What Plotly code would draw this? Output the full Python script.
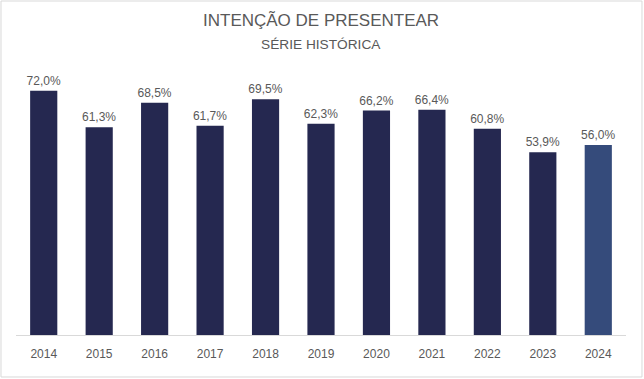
import plotly.graph_objects as go

years = ["2014", "2015", "2016", "2017", "2018", "2019", "2020", "2021", "2022", "2023", "2024"]
values = [72.0, 61.3, 68.5, 61.7, 69.5, 62.3, 66.2, 66.4, 60.8, 53.9, 56.0]
labels = ["72,0%", "61,3%", "68,5%", "61,7%", "69,5%", "62,3%", "66,2%", "66,4%", "60,8%", "53,9%", "56,0%"]
colors = ["#252850"] * 10 + ["#354b7b"]

fig = go.Figure(go.Bar(
    x=years, y=values, text=labels, textposition="outside",
    marker=dict(color=colors, line=dict(width=0)),
    textfont=dict(size=12, color="#595959"),
    constraintext="none",
    cliponaxis=False,
))

fig.update_layout(
    width=644, height=379,
    margin=dict(l=16, r=18, t=60, b=44),
    paper_bgcolor="white", plot_bgcolor="white",
    font=dict(family="Liberation Sans, Arial, sans-serif", color="#595959"),
    bargap=0.51,
    showlegend=False,
    xaxis=dict(showline=True, linecolor="#d9d9d9", linewidth=1, ticks="",
               ticklabelstandoff=8,
               tickfont=dict(size=12, color="#595959"), showgrid=False, fixedrange=True),
    yaxis=dict(visible=False, range=[0, 81.1], showgrid=False),
    annotations=[
        dict(text="INTENÇÃO DE PRESENTEAR", xref="paper", yref="paper", x=0.5, y=1.145,
             xanchor="center", yanchor="middle", showarrow=False,
             font=dict(size=17, color="#595959")),
        dict(text="SÉRIE HISTÓRICA", xref="paper", yref="paper", x=0.5, y=1.058,
             xanchor="center", yanchor="middle", showarrow=False,
             font=dict(size=13.7, color="#595959")),
    ],
    shapes=[dict(type="rect", xref="paper", yref="paper",
                 x0=-0.0246, x1=1.0262, y0=-0.1527, y1=1.2145,
                 line=dict(color="#d9d9d9", width=1), fillcolor="rgba(0,0,0,0)", layer="below")],
)

fig.write_html("out.html", config={"displayModeBar": False},
               post_script="document.body.style.margin='0';document.body.style.padding='0';document.body.style.overflow='hidden';")
